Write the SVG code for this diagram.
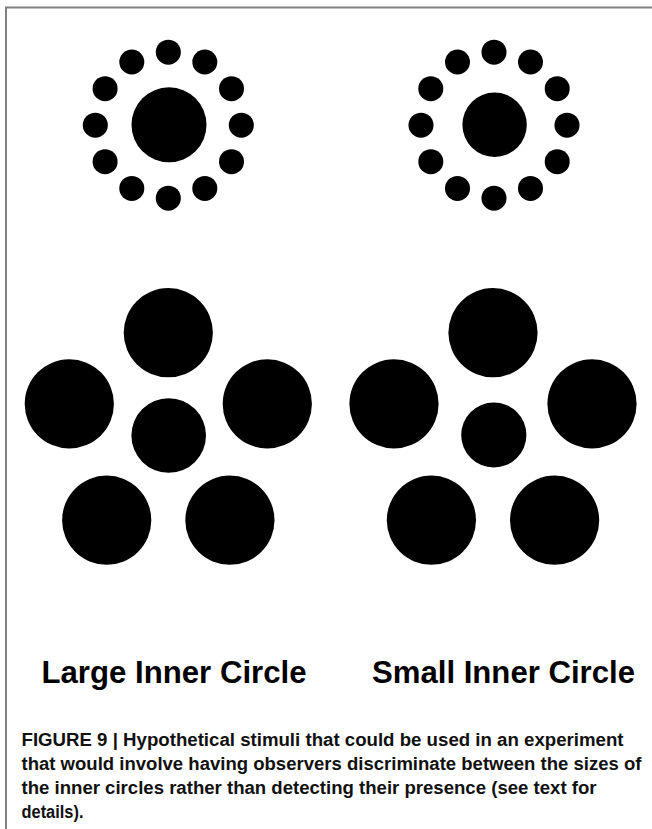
<svg xmlns="http://www.w3.org/2000/svg" xmlns:xlink="http://www.w3.org/1999/xlink" width="652" height="829" viewBox="0 0 652 829">
  <style>
    .dot { fill: #000; }
    .label { font-family: "Liberation Sans", Arial, sans-serif; font-weight: bold; font-size: 31px; fill: #000; }
    .caption { font-family: "Liberation Sans", Arial, sans-serif; font-weight: bold; font-size: 18px; fill: #111; }
    .frame { fill: none; stroke: #808080; stroke-width: 2; }
  </style>
  <defs>
    <g id="ring">
      <circle class="dot" cx="0" cy="-73" r="12.5"/>
      <circle class="dot" cx="36.5" cy="-63.2" r="12.5"/>
      <circle class="dot" cx="63.2" cy="-36.5" r="12.5"/>
      <circle class="dot" cx="73" cy="0" r="12.5"/>
      <circle class="dot" cx="63.2" cy="36.5" r="12.5"/>
      <circle class="dot" cx="36.5" cy="63.2" r="12.5"/>
      <circle class="dot" cx="0" cy="73" r="12.5"/>
      <circle class="dot" cx="-36.5" cy="63.2" r="12.5"/>
      <circle class="dot" cx="-63.2" cy="36.5" r="12.5"/>
      <circle class="dot" cx="-73" cy="0" r="12.5"/>
      <circle class="dot" cx="-63.2" cy="-36.5" r="12.5"/>
      <circle class="dot" cx="-36.5" cy="-63.2" r="12.5"/>
    </g>
    <g id="pentagon">
      <circle class="dot" cx="0" cy="-103.5" r="44.6"/>
      <circle class="dot" cx="99" cy="-32.3" r="44.6"/>
      <circle class="dot" cx="-99" cy="-32.3" r="44.6"/>
      <circle class="dot" cx="61.6" cy="84" r="44.6"/>
      <circle class="dot" cx="-61.6" cy="84" r="44.6"/>
    </g>
  </defs>

  <rect x="0" y="0" width="652" height="829" fill="#fff"/>
  <path class="frame" d="M6 829 V7.5 H652"/>

  <g id="ring-large">
    <use xlink:href="#ring" href="#ring" transform="translate(168.3,125.2)"/>
    <circle class="dot" cx="169" cy="124.8" r="37.5"/>
  </g>
  <g id="ring-small">
    <use xlink:href="#ring" href="#ring" transform="translate(494,125.2)"/>
    <circle class="dot" cx="494.6" cy="124.7" r="32.2"/>
  </g>

  <g id="pentagon-large">
    <use xlink:href="#pentagon" href="#pentagon" transform="translate(168.3,436.2)"/>
    <circle class="dot" cx="168.7" cy="435.5" r="37.3"/>
  </g>
  <g id="pentagon-small">
    <use xlink:href="#pentagon" href="#pentagon" transform="translate(493,436.2)"/>
    <circle class="dot" cx="493.8" cy="435" r="32.6"/>
  </g>

  <g id="labels">
    <text class="label" x="41.5" y="683" textLength="265" lengthAdjust="spacingAndGlyphs">Large Inner Circle</text>
    <text class="label" x="372" y="683" textLength="263" lengthAdjust="spacingAndGlyphs">Small Inner Circle</text>
  </g>

  <g id="caption">
    <text class="caption" x="21.5" y="746" textLength="602" lengthAdjust="spacingAndGlyphs">FIGURE 9 | Hypothetical stimuli that could be used in an experiment</text>
    <text class="caption" x="21.5" y="770" textLength="620" lengthAdjust="spacingAndGlyphs">that would involve having observers discriminate between the sizes of</text>
    <text class="caption" x="21.5" y="794" textLength="575" lengthAdjust="spacingAndGlyphs">the inner circles rather than detecting their presence (see text for</text>
    <text class="caption" x="21.5" y="818" textLength="62" lengthAdjust="spacingAndGlyphs">details).</text>
  </g>
</svg>
